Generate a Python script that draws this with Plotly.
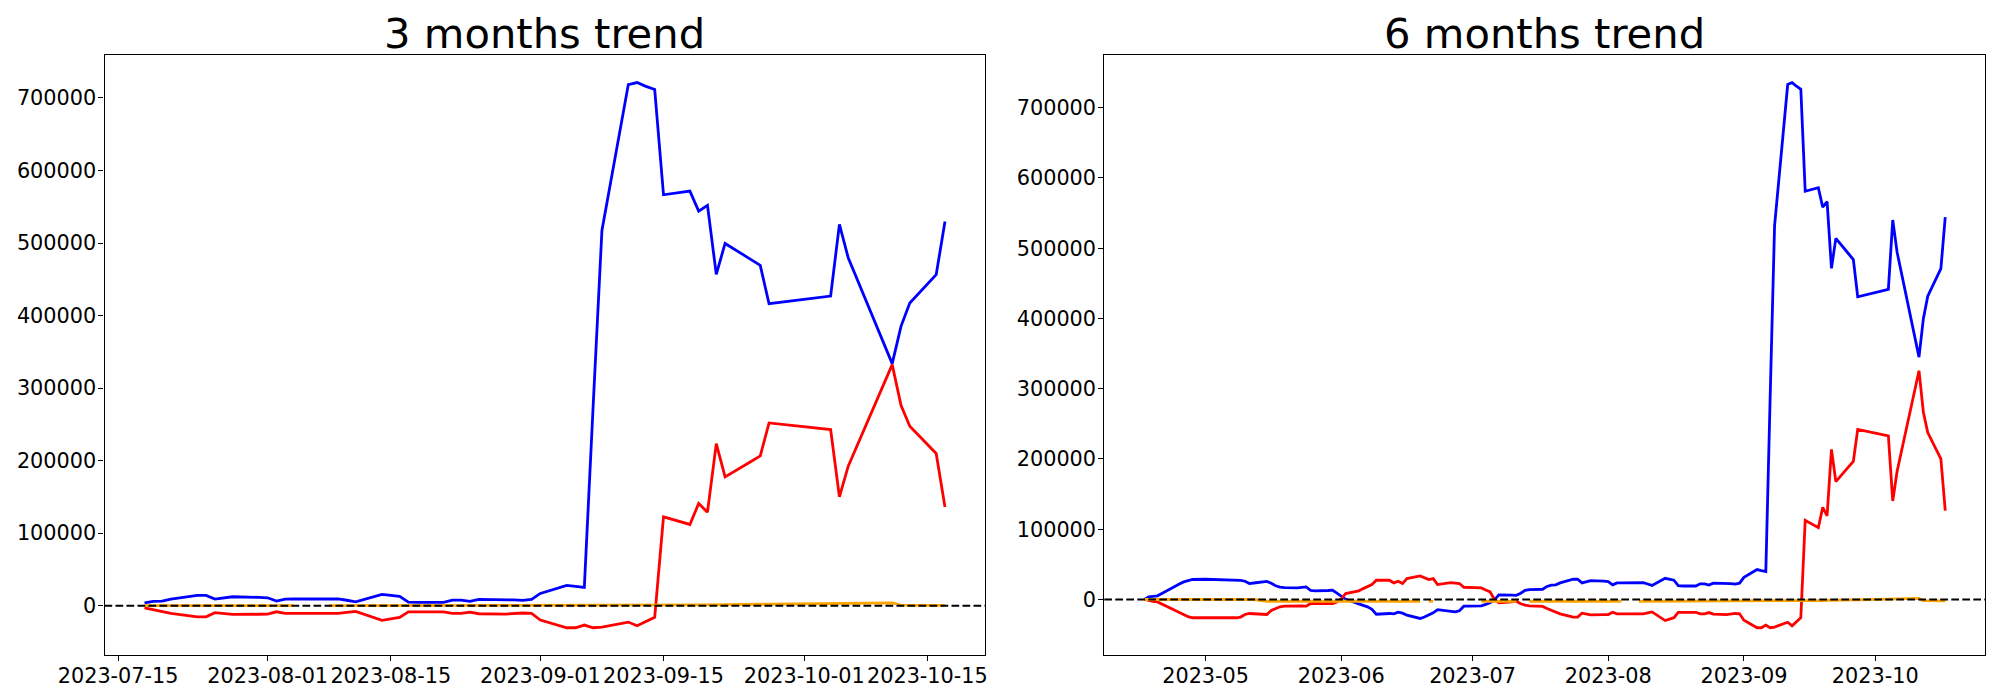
import pandas as pd
import plotly.graph_objects as go

# ---------------- 3 months data ----------------
dates_3m = ["2023-07-18", "2023-07-19", "2023-07-20", "2023-07-21", "2023-07-24", "2023-07-25",
            "2023-07-26", "2023-07-27", "2023-07-28", "2023-07-31",
            "2023-08-01", "2023-08-02", "2023-08-03", "2023-08-04", "2023-08-07", "2023-08-08",
            "2023-08-09", "2023-08-10", "2023-08-11", "2023-08-14", "2023-08-15", "2023-08-16",
            "2023-08-17", "2023-08-18", "2023-08-21", "2023-08-22", "2023-08-23", "2023-08-24",
            "2023-08-25", "2023-08-28", "2023-08-29", "2023-08-30", "2023-08-31",
            "2023-09-01", "2023-09-04", "2023-09-05", "2023-09-06", "2023-09-07", "2023-09-08",
            "2023-09-11", "2023-09-12", "2023-09-13", "2023-09-14", "2023-09-15", "2023-09-18",
            "2023-09-19", "2023-09-20", "2023-09-21", "2023-09-22", "2023-09-25", "2023-09-26",
            "2023-09-27",
            "2023-10-04", "2023-10-05", "2023-10-06", "2023-10-11", "2023-10-12", "2023-10-13",
            "2023-10-16", "2023-10-17"]

blue_3m = [4000, 5900, 6300, 9100, 14200, 14200, 9100, 10800, 12300, 11500,
           10900, 6300, 9100, 9200, 9300, 9400, 9500, 7500, 5400, 15500, 14100, 12800,
           5000, 4600, 4600, 7700, 7700, 5900, 8600, 8600, 8000, 7300, 8600,
           16900, 28000, 26500, 25200, 275000, 517300, 718400, 721200, 716000, 711600,
           566500, 571500, 543900, 551800, 456700, 499400, 476800, 469100, 416300,
           426900, 525600, 479700, 333700, 385100, 417200, 456300, 529700]

red_3m = [-2900, -5500, -8000, -10600, -15300, -15300, -9700, -11000, -12000, -11800,
          -11600, -8400, -10600, -10600, -10600, -10600, -10600, -9200, -7900, -20200, -18100,
          -16100, -8400, -8400, -8400, -10600, -10600, -8800, -11100, -11600, -10800, -10100,
          -10600,
          -19800, -30400, -30400, -26700, -30400, -29500, -22600, -27700, -22200, -16100,
          122500, 112000, 140900, 128900, 223500, 177600, 199200, 206500, 251900,
          242800, 150000, 192300, 332400, 276300, 247400, 209800, 136200]

orange_3m = [0, 0, 0, 0, 0, 0, 0, 0, 0, 0,
             0, 0, 0, 0, None, 0, 0, 0, 0, 0, 0, 0,
             0, 0, 0, 0, 0, 0, 0, 0, 0, 0, 0,
             0, 0, 0, 0, 0, 0, 0, 0, 0, 0,
             500, 1000, 1000, 1200, 1500, 1500, 1800, 2000, 2000,
             2500, 3000, 3500, 4000, 800, 500, 500, 500]

# ---------------- 6 months data ----------------
dates_6m = ["2023-04-17", "2023-04-18", "2023-04-19", "2023-04-20", "2023-04-21", "2023-04-24",
            "2023-04-25", "2023-04-26", "2023-04-27", "2023-04-28",
            "2023-05-01", "2023-05-02", "2023-05-03", "2023-05-04", "2023-05-05", "2023-05-08",
            "2023-05-09", "2023-05-10", "2023-05-11", "2023-05-12", "2023-05-15", "2023-05-16",
            "2023-05-17", "2023-05-18", "2023-05-19", "2023-05-22", "2023-05-23", "2023-05-24",
            "2023-05-25", "2023-05-26", "2023-05-29", "2023-05-30", "2023-05-31",
            "2023-06-01", "2023-06-02", "2023-06-05", "2023-06-06", "2023-06-07", "2023-06-08",
            "2023-06-09", "2023-06-12", "2023-06-13", "2023-06-14", "2023-06-15", "2023-06-16",
            "2023-06-19", "2023-06-20", "2023-06-21", "2023-06-22", "2023-06-23", "2023-06-26",
            "2023-06-27", "2023-06-28", "2023-06-29", "2023-06-30",
            "2023-07-03", "2023-07-04", "2023-07-05", "2023-07-06", "2023-07-07", "2023-07-10",
            "2023-07-11", "2023-07-12", "2023-07-13", "2023-07-14", "2023-07-17"] + dates_3m

blue_6m = [0, 3700, 4500, 5200, 8500, 19500, 22000, 25000, 26800, 28500,
           28800, 28700, 28500, 28400, 28600, 28000, 27200, 26000, 22700, 23500, 25700, 23000,
           19500, 17500, 16800, 16600, 16800, 17900, 12800, 12300, 12800, 13200, 9000,
           4000, 200, -6200, -8100, -10500, -14000, -21000, -19900, -20500, -18000, -19500,
           -22300, -27000, -25000, -22000, -19000, -14500, -17000, -17500, -16100, -9500, -9500,
           -9000, -7000, -4500, -500, 6500, 6300, 6000, 9000, 13000, 14100, 14600,
           18600, 20500, 20900, 23700, 28800, 28800, 23700, 25400, 26900, 26100,
           25500, 20900, 23700, 23800, 23900, 24000, 24100, 22100, 20000, 30100, 28700, 27400,
           19600, 19200, 19200, 22300, 22300, 20500, 23200, 23200, 22600, 21900, 23200,
           31500, 42600, 41100, 39800, 289600, 531900, 733000, 735800, 730600, 726200,
           581100, 586100, 558500, 566400, 471300, 514000, 491400, 483700, 430900,
           441500, 540200, 494300, 345000, 399700, 431800, 470900, 544300]

red_6m = [0, -1900, -2700, -3400, -6500, -15200, -19000, -22300, -24500, -26000,
          -26000, -26300, -26800, -27000, -26500, -26000, -25000, -21300, -19900, -20300, -21300,
          -15500, -12500, -10400, -9500, -8600, -9000, -9500, -5700, -5700, -5700, -5700, -3400,
          1000, 8500, 12300, 15500, 18000, 21200, 27400, 27400, 23600, 26000, 22700, 29800,
          33600, 31200, 28400, 29800, 21200, 24100, 23500, 22700, 17400, 17000,
          16500, 13500, 10800, 0, -4700, -3500, -2400, -6000, -8100, -9000, -9800,
          -12700, -15300, -17800, -20400, -25100, -25100, -19500, -20800, -21800, -21600,
          -21400, -18200, -20400, -20400, -20400, -20400, -20400, -19000, -17700, -30000,
          -27900, -25900, -18200, -18200, -18200, -20400, -20400, -18600, -20900, -21400,
          -20600, -19900, -20400,
          -29600, -40200, -40200, -36500, -40200, -39300, -32400, -37500, -32000, -25900,
          112700, 102200, 131100, 119100, 213700, 167800, 189400, 196700, 242100,
          233000, 140200, 182500, 325700, 266500, 237600, 200000, 126400]

orange_6m = ([0] * 20 + [-2500] * 26 + [None, -2500, -2500] + [None] * 6 + [-2500] * 7
             + [None, None, -2500, -2500]
             + [-2500] * 14 + [None] + [-2500] * 28
             + [-2000, -1500, -1500, -1300, -1000, -1000, -700, -500, -500,
                0, 500, 1000, 1500, -1700, -2000, -2000, -2000])

ticks_3m = ["2023-07-15", "2023-08-01", "2023-08-15", "2023-09-01", "2023-09-15",
            "2023-10-01", "2023-10-15"]
ticks_6m = ["2023-05-01", "2023-06-01", "2023-07-01", "2023-08-01", "2023-09-01", "2023-10-01"]
ticks_6m_text = ["2023-05", "2023-06", "2023-07", "2023-08", "2023-09", "2023-10"]
y_ticks = [0, 100000, 200000, 300000, 400000, 500000, 600000, 700000]
titles = ["3 months trend", "6 months trend"]


def pad_dates(ds):
    t = pd.to_datetime(pd.Series(ds))
    lo, hi = t.min(), t.max()
    m = (hi - lo) * 0.05
    return [(lo - m).isoformat(), (hi + m).isoformat()]


def pad_vals(*series):
    vals = [v for s in series for v in s if v is not None]
    lo, hi = min(vals), max(vals)
    m = (hi - lo) * 0.05
    return [lo - m, hi + m]


FONT = "DejaVu Sans"
LW = 2.8

# The page body has a default 8px margin, so the figure is drawn 8px in from the window edge.
OFF = 8
W, H = 2000 - 2 * OFF, 700 - 2 * OFF


def px_x(x):
    return (x - OFF) / W


def px_y(y):
    return 1 - (y - OFF) / H


fig = go.Figure()

panels = [
    (dates_3m, blue_3m, red_3m, orange_3m, "x", "y"),
    (dates_6m, blue_6m, red_6m, orange_6m, "x2", "y2"),
]
for d, b, r, o, xa, ya in panels:
    for vals, col in [(b, "blue"), (r, "red"), (o, "orange")]:
        fig.add_trace(go.Scatter(x=d, y=vals, mode="lines", line=dict(color=col, width=LW),
                                 xaxis=xa, yaxis=ya, showlegend=False, connectgaps=False,
                                 hoverinfo="skip"))

axis_common = dict(showline=True, linecolor="black", linewidth=1.1, mirror=True,
                   ticks="outside", ticklen=5, tickwidth=1.1, tickcolor="black",
                   showgrid=False, zeroline=False, automargin=False, tickangle=0,
                   tickfont=dict(family=FONT, size=20.8, color="black"))

ydom = [px_y(655), px_y(55.3)]
x1dom = [px_x(104.5), px_x(985)]
x2dom = [px_x(1104.3), px_x(1985.3)]

fig.update_layout(
    width=W, height=H,
    margin=dict(l=0, r=0, t=0, b=0),
    paper_bgcolor="white", plot_bgcolor="white",
    xaxis=dict(domain=x1dom, range=pad_dates(dates_3m), type="date",
               tickvals=ticks_3m, ticktext=ticks_3m, anchor="y",
               ticklabelstandoff=-3, **axis_common),
    yaxis=dict(domain=ydom, range=pad_vals(blue_3m, red_3m, orange_3m),
               tickvals=y_ticks, tickformat="d", anchor="x",
               ticklabelstandoff=-2, **axis_common),
    xaxis2=dict(domain=x2dom, range=pad_dates(dates_6m), type="date",
                tickvals=ticks_6m, ticktext=ticks_6m_text, anchor="y2",
                ticklabelstandoff=-3, **axis_common),
    yaxis2=dict(domain=ydom, range=pad_vals(blue_6m, red_6m, orange_6m),
                tickvals=y_ticks, tickformat="d", anchor="x2",
                ticklabelstandoff=-2, **axis_common),
)

# dashed zero lines spanning the full axes width
for xr, yr in [("x domain", "y"), ("x2 domain", "y2")]:
    fig.add_shape(type="line", xref=xr, yref=yr, x0=0, x1=1, y0=0, y1=0,
                  line=dict(color="black", width=2.1, dash="7.7px,3.3px"), layer="above")

# titles
for dom, txt in [(x1dom, titles[0]), (x2dom, titles[1])]:
    fig.add_annotation(text=txt, xref="paper", yref="paper", x=(dom[0] + dom[1]) / 2,
                       y=px_y(60.5), xanchor="center", yanchor="bottom", showarrow=False,
                       font=dict(family=FONT, size=41.7, color="black"))

fig.write_html("out.html")
